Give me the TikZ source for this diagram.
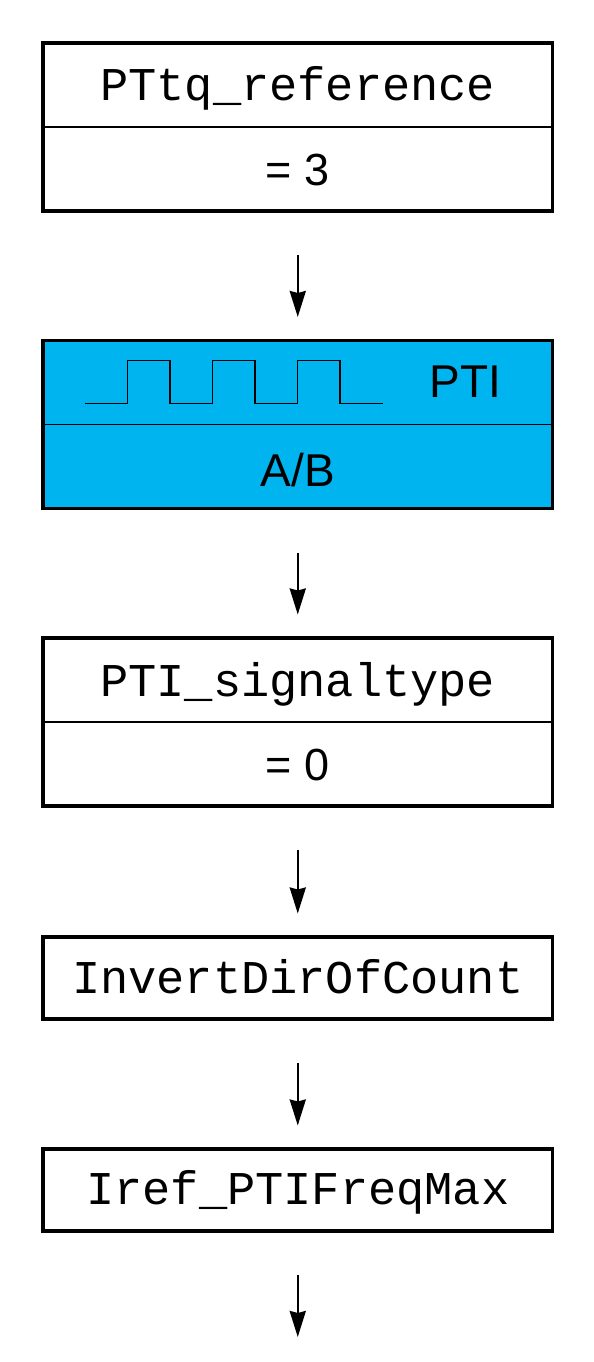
\documentclass[tikz,border=0pt]{standalone}
\usepackage{fontspec}
\setmainfont{Liberation Sans}
\setmonofont{Liberation Mono}
\usetikzlibrary{positioning,arrows.meta}
\definecolor{ptiblue}{RGB}{0,180,240}

\begin{document}
\begin{tikzpicture}[x=1pt, y=-1pt,
    box/.style={draw, line width=3.5pt, minimum width=509.5pt, inner sep=0pt, outer sep=0pt},
    tall/.style={box, minimum height=168pt},
    flat/.style={box, minimum height=82pt},
    parname/.style={anchor=base, font=\fontsize{47}{50}\selectfont\ttfamily},
    parval/.style={anchor=base, font=\fontsize{45}{50}\selectfont},
    bigtxt/.style={anchor=base, font=\fontsize{46}{50}\selectfont},
    flow/.style={-{Stealth[length=26pt,width=16pt,inset=2pt]}, line width=2.5pt,
      shorten <=44pt, shorten >=23.5pt}]
    \useasboundingbox (0,0) rectangle (594,1362);

    % Draw boxes
    \node[tall] (ref) at (297.75,127) {};
    \node[tall, fill=ptiblue] (pti) at (297.75,424.5) {};
    \node[tall] (sig) at (297.75,722) {};
    \node[flat] (inv) at (297.75,978) {};
    \node[flat] (iref) at (297.75,1190) {};
    \coordinate[below=129.5pt of iref] (out);

    % Draw row dividers
    \foreach \n in {ref,pti,sig}
      \draw[line width=1.2pt] (\n.west) -- (\n.east);

    % Draw pulse train
    \draw[line width=1.5pt] (85,403.5)
      \foreach \k in {1,2,3} { -- ++(42.5,0) -- ++(0,-43) -- ++(42.5,0) -- ++(0,43) }
      -- ++(42.5,0);

    % Draw texts
    \node[parname] (refname) at (297.75,101) {PTtq\_reference};
    \node[parval] (refval) at (297.75,185) {= 3};
    \node[bigtxt] (ptiname) at (465.5,397) {PTI};
    \node[bigtxt] (ptival) at (297.75,486) {A/B};
    \node[parname] (signame) at (297.75,696) {PTI\_signaltype};
    \node[parval] (sigval) at (297.75,780) {= 0};
    \node[parname] (invname) at (297.75,993) {InvertDirOfCount};
    \node[parname] (irefname) at (297.75,1204) {Iref\_PTIFreqMax};

    % Draw connecting arrows
    \foreach \a/\b in {ref/pti,pti/sig,sig/inv,inv/iref}
      \draw[flow] (\a.south) -- (\b.north);
    \draw[flow] (iref.south) -- (out);

\end{tikzpicture}
\end{document}
